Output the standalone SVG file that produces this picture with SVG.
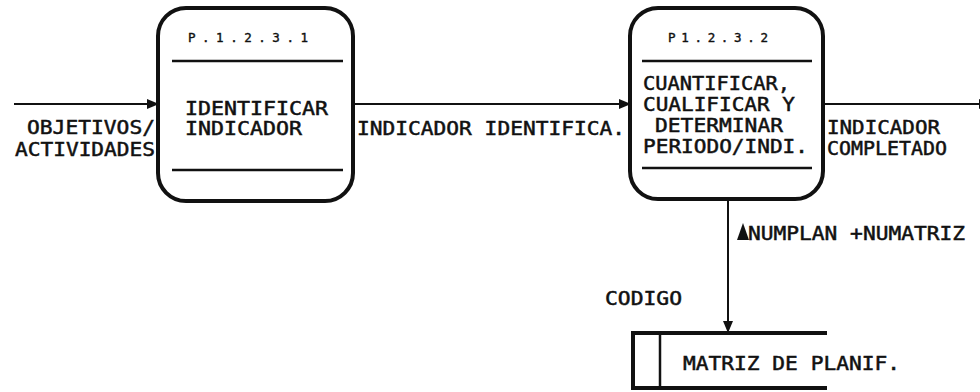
<svg xmlns="http://www.w3.org/2000/svg" width="980" height="392" viewBox="0 0 980 392">
<style>
.t{font-family:"DejaVu Sans Mono","Liberation Mono",monospace;font-size:19px;fill:#111;stroke:#111;stroke-width:0.5;}
.s{font-family:"DejaVu Sans Mono","Liberation Mono",monospace;font-size:12.5px;fill:#111;stroke:#111;stroke-width:0.4;}
.box{fill:none;stroke:#111;stroke-width:4;}
.div{stroke:#111;stroke-width:2.5;}
.ln{stroke:#111;stroke-width:2;fill:none;}
</style>
<defs>
<marker id="ah" markerWidth="12" markerHeight="10" refX="11" refY="5" orient="auto" markerUnits="userSpaceOnUse">
<path d="M0,0 L12,5 L0,10 Z" fill="#111"/>
</marker>
</defs>
<rect width="980" height="392" fill="#fff"/>
<g id="connectors">
<line class="ln" x1="14" y1="104" x2="158" y2="104" marker-end="url(#ah)"/>
<line class="ln" x1="353" y1="104" x2="630" y2="104" marker-end="url(#ah)"/>
<line class="ln" x1="823" y1="104" x2="990" y2="104" marker-end="url(#ah)"/>
<line class="ln" x1="728" y1="198" x2="728" y2="332" marker-end="url(#ah)"/>
<text class="t" x="155" y="134" text-anchor="end" textLength="128" lengthAdjust="spacingAndGlyphs">OBJETIVOS/</text>
<text class="t" x="15" y="156" textLength="140" lengthAdjust="spacingAndGlyphs">ACTIVIDADES</text>
<text class="t" x="357" y="135" textLength="268" lengthAdjust="spacingAndGlyphs">INDICADOR IDENTIFICA.</text>
<text class="t" x="827" y="134" textLength="113" lengthAdjust="spacingAndGlyphs">INDICADOR</text>
<text class="t" x="827" y="155" textLength="120" lengthAdjust="spacingAndGlyphs">COMPLETADO</text>
<polygon points="743,223 737,240 749,240" fill="#111"/>
<text class="t" x="748" y="240" textLength="217" lengthAdjust="spacingAndGlyphs">NUMPLAN +NUMATRIZ</text>
<text class="t" x="605" y="305" textLength="77" lengthAdjust="spacingAndGlyphs">CODIGO</text>
</g>
<g id="p12331">
<rect class="box" x="158" y="8" width="195" height="193" rx="28" ry="28"/>
<line class="div" x1="172" y1="61" x2="343" y2="61"/>
<line class="div" x1="172" y1="170" x2="343" y2="170"/>
<text class="s" x="188" y="42" textLength="120" lengthAdjust="spacing">P.1.2.3.1</text>
<text class="t" x="185" y="115" textLength="143" lengthAdjust="spacingAndGlyphs">IDENTIFICAR</text>
<text class="t" x="185" y="135" textLength="117" lengthAdjust="spacingAndGlyphs">INDICADOR</text>
</g>
<g id="p12332">
<rect class="box" x="630" y="8" width="193" height="191" rx="28" ry="28"/>
<line class="div" x1="642" y1="61" x2="812" y2="61"/>
<line class="div" x1="642" y1="168" x2="812" y2="168"/>
<text class="s" x="668" y="42" textLength="100" lengthAdjust="spacing">P1.2.3.2</text>
<text class="t" x="643" y="90" textLength="147" lengthAdjust="spacingAndGlyphs">CUANTIFICAR,</text>
<text class="t" x="643" y="111" textLength="152" lengthAdjust="spacingAndGlyphs">CUALIFICAR Y</text>
<text class="t" x="655" y="132" textLength="128" lengthAdjust="spacingAndGlyphs">DETERMINAR</text>
<text class="t" x="643" y="153" textLength="165" lengthAdjust="spacingAndGlyphs">PERIODO/INDI.</text>
</g>
<g id="store">
<path class="box" d="M827,333 L633,333 L633,388 L827,388" stroke-width="3"/>
<line class="div" x1="660" y1="333" x2="660" y2="388"/>
<text class="t" x="683" y="370" textLength="217" lengthAdjust="spacingAndGlyphs">MATRIZ DE PLANIF.</text>
</g>
</svg>
